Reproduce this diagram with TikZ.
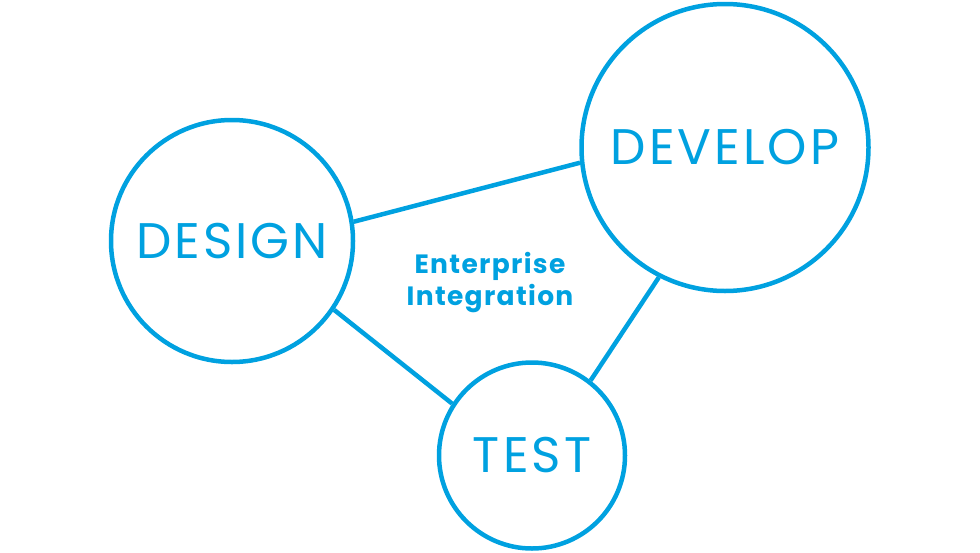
\documentclass[tikz,border=0pt]{standalone}
\usepackage{fontspec}
\setmainfont{Poppins}
\newfontfamily\phasefont[LetterSpace=6]{Poppins}
\newfontfamily\hubfont[LetterSpace=5]{Poppins}
\usepackage{tikz}
\usetikzlibrary{positioning}
\definecolor{cycleblue}{RGB}{0,161,224}

\begin{document}
\begin{tikzpicture}[
  x=1pt, y=-1pt,
  phase/.style={draw=cycleblue, circle, line width=4.5pt, inner sep=0pt,
                text=cycleblue, font=\phasefont\fontsize{50}{50}\selectfont},
  hub/.style={text=cycleblue, align=center,
              font=\hubfont\fontsize{26.5}{32}\selectfont\bfseries},
  link/.style={draw=cycleblue, line width=4.5pt},
]
\useasboundingbox (0,0) rectangle (980,552);

\node[phase, minimum size=242pt] (design)  at (232,241) {DESIGN};
\node[phase, minimum size=287pt] (develop) at (725,147.5) {DEVELOP};
\node[phase, minimum size=186pt] (test)    at (532,455.5) {TEST};
\node[hub] (core) at (490,283) {Enterprise\\Integration};

\draw[link] (design.9)   -- (develop.186);
\draw[link] (design.-34) -- (test.147);
\draw[link] (develop.243) -- (test.52);

\end{tikzpicture}
\end{document}
